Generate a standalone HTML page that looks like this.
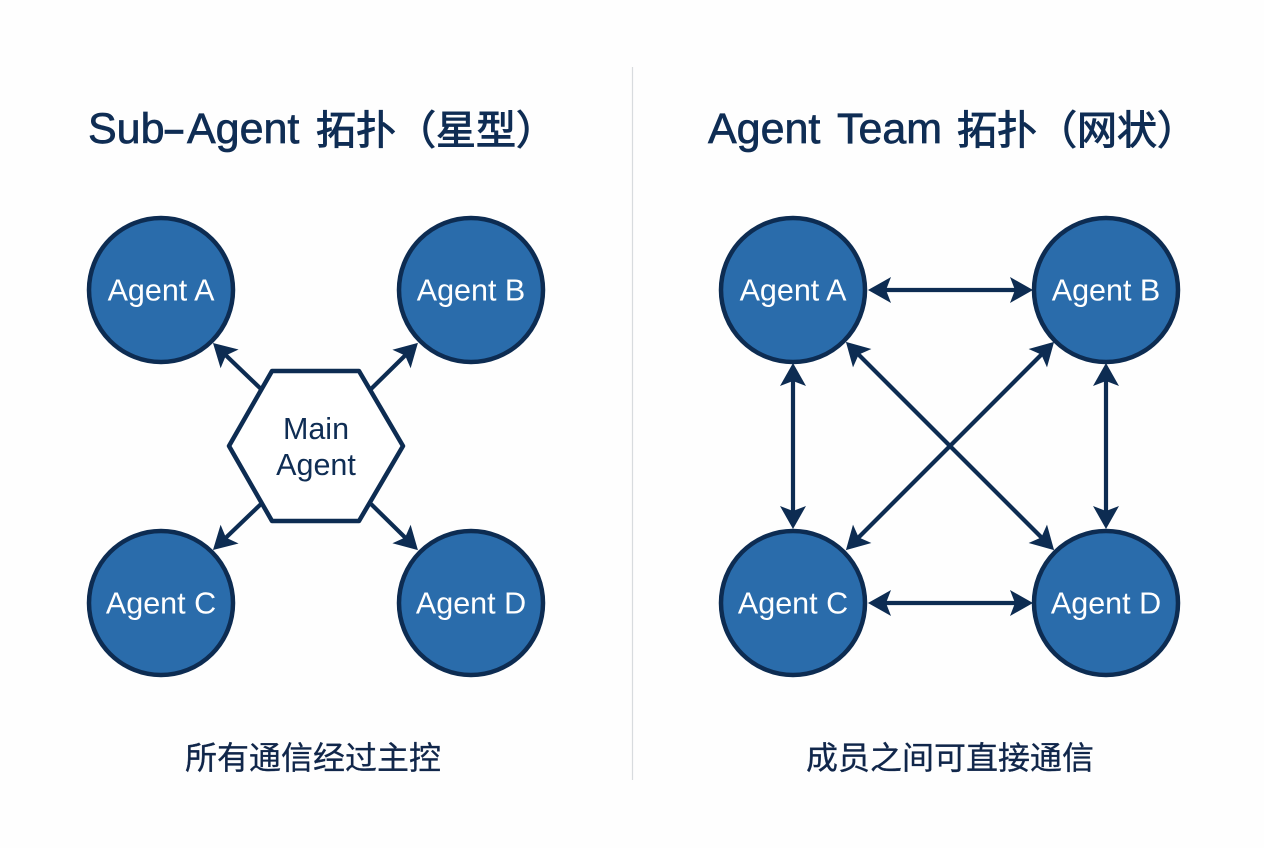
<!DOCTYPE html>
<html lang="zh">
<head>
<meta charset="utf-8">
<style>
html,body{margin:0;padding:0;background:#fff;width:1264px;height:848px;overflow:hidden}
svg{display:block}
text{font-family:"Liberation Sans","Noto Sans CJK SC",sans-serif}
.t{font-size:43px;fill:#0f2d54;stroke:#0f2d54;stroke-width:.7px}
.c{font-size:40px;fill:#0f2d54;stroke:#0f2d54;stroke-width:1px}
.n{font-size:30.5px;fill:#fff;text-anchor:middle}
.m{font-size:30.5px;fill:#0f2d54;text-anchor:middle}
.cap{font-size:32px;fill:#10264a;stroke:#10264a;stroke-width:.3px}
circle{fill:#2a6cab;stroke:#0d2c52;stroke-width:4.5}
.l{stroke:#0d2c52;stroke-width:4.2;fill:none}
</style>
</head>
<body>
<svg width="1264" height="848" viewBox="0 0 1264 848" xmlns="http://www.w3.org/2000/svg">
<defs>
<marker id="h" markerUnits="userSpaceOnUse" markerWidth="28" markerHeight="30" viewBox="-1 -15 28 30" refX="13" refY="0" orient="auto-start-reverse">
<path d="M0,-13 L23,0 L0,13 L5,0 Z" fill="#0d2c52"/>
</marker>
</defs>
<rect width="1264" height="848" fill="#fefefe"/>
<line x1="632.5" y1="67" x2="632.5" y2="780" stroke="#d8dbde" stroke-width="1.2"/>

<!-- Left title -->
<text class="t" y="143"><tspan x="88">Sub</tspan><tspan x="162" textLength="24" lengthAdjust="spacingAndGlyphs">-</tspan><tspan x="187">Agent</tspan></text>
<text class="c" x="316" y="144">拓扑（星型）</text>

<!-- Right title -->
<text class="t" y="143"><tspan x="708">Agent</tspan><tspan x="837" textLength="105" lengthAdjust="spacingAndGlyphs">Team</tspan></text>
<text class="c" x="957" y="144">拓扑（网状）</text>

<!-- Left arrows -->
<line class="l" x1="261" y1="389" x2="220.2" y2="349.9" marker-end="url(#h)"/>
<line class="l" x1="371" y1="389" x2="410.8" y2="349.9" marker-end="url(#h)"/>
<line class="l" x1="261" y1="504" x2="220.2" y2="543.1" marker-end="url(#h)"/>
<line class="l" x1="371" y1="504" x2="410.8" y2="543.1" marker-end="url(#h)"/>

<!-- Left nodes -->
<circle cx="161" cy="290" r="72"/>
<circle cx="471" cy="290" r="72"/>
<circle cx="161" cy="603" r="72"/>
<circle cx="471" cy="603" r="72"/>
<text class="n" x="161" y="300.5">Agent A</text>
<text class="n" x="471" y="300.5">Agent B</text>
<text class="n" x="161" y="613.5">Agent C</text>
<text class="n" x="471" y="613.5">Agent D</text>

<polygon points="272,371 359,371 403,446 359,521 272,521 229,446" fill="#fff" stroke="#0d2c52" stroke-width="4.5" stroke-linejoin="round"/>
<text class="m" x="316" y="439">Main</text>
<text class="m" x="316" y="475">Agent</text>

<!-- Right arrows -->
<line class="l" x1="878" y1="290" x2="1023" y2="290" marker-start="url(#h)" marker-end="url(#h)"/>
<line class="l" x1="878" y1="603" x2="1023" y2="603" marker-start="url(#h)" marker-end="url(#h)"/>
<line class="l" x1="793" y1="373" x2="793" y2="519" marker-start="url(#h)" marker-end="url(#h)"/>
<line class="l" x1="1106" y1="373" x2="1106" y2="519" marker-start="url(#h)" marker-end="url(#h)"/>
<line class="l" x1="853" y1="349" x2="1047" y2="543" marker-start="url(#h)" marker-end="url(#h)"/>
<line class="l" x1="1047" y1="349" x2="853" y2="543" marker-start="url(#h)" marker-end="url(#h)"/>

<!-- Right nodes -->
<circle cx="793" cy="290" r="72"/>
<circle cx="1106" cy="290" r="72"/>
<circle cx="793" cy="603" r="72"/>
<circle cx="1106" cy="603" r="72"/>
<text class="n" x="793" y="300.5">Agent A</text>
<text class="n" x="1106" y="300.5">Agent B</text>
<text class="n" x="793" y="613.5">Agent C</text>
<text class="n" x="1106" y="613.5">Agent D</text>

<!-- Captions -->
<text class="cap" x="185" y="769">所有通信经过主控</text>
<text class="cap" x="806" y="769">成员之间可直接通信</text>
</svg>
</body>
</html>
